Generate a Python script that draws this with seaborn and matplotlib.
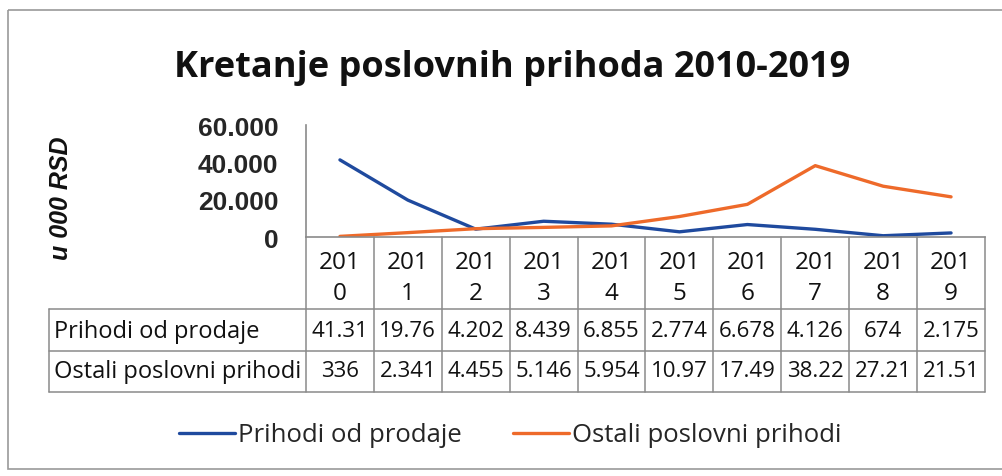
import pandas as pd
import matplotlib.pyplot as plt
import seaborn as sns
from matplotlib.patches import Rectangle

# Data (u 000 RSD)
years = ["2010", "2011", "2012", "2013", "2014", "2015", "2016", "2017", "2018", "2019"]
prihodi_od_prodaje = [41310, 19760, 4202, 8439, 6855, 2774, 6678, 4126, 674, 2175]
ostali_prihodi = [336, 2341, 4455, 5146, 5954, 10970, 17490, 38220, 27210, 21510]
# values as printed in the data table (cut off by the narrow cells)
prodaja_labels = ["41.31", "19.76", "4.202", "8.439", "6.855", "2.774", "6.678", "4.126", "674", "2.175"]
ostali_labels = ["336", "2.341", "4.455", "5.146", "5.954", "10.97", "17.49", "38.22", "27.21", "21.51"]
series_names = ["Prihodi od prodaje", "Ostali poslovni prihodi"]
colors = {"Prihodi od prodaje": "#1f4a9e", "Ostali poslovni prihodi": "#ee6a2a"}

df = pd.DataFrame({
    "idx": list(range(len(years))) * 2,
    "value": prihodi_od_prodaje + ostali_prihodi,
    "series": [series_names[0]] * len(years) + [series_names[1]] * len(years),
})

sns.set_style("white")
W, H = 1003, 477
fig = plt.figure(figsize=(W / 100, H / 100), dpi=100)

# pixel helper overlay for title, table and frame
ov = fig.add_axes([0, 0, 1, 1])
ov.set_xlim(0, W)
ov.set_ylim(H, 0)
ov.axis("off")
ov.set_zorder(0)

# chart frame
ov.add_patch(Rectangle((8, 11), W, 459, fill=False, ec="#9a9a9a", lw=1.2))

# plot area
x0, x1, y_top, y_bot = 306, 985, 126, 238
ax = fig.add_axes([x0 / W, 1 - y_bot / H, (x1 - x0) / W, (y_bot - y_top) / H])
ax.set_zorder(1)
ax.patch.set_alpha(0)
sns.lineplot(data=df, x="idx", y="value", hue="series", palette=colors,
             linewidth=2.4, ax=ax)
ax.set_xlim(-0.5, len(years) - 0.5)
ax.set_ylim(0, 60000)
ax.set_yticks([0, 20000, 40000, 60000])
ax.set_yticklabels(["0", "20.000", "40.000", "60.000"],
                   fontfamily="Liberation Sans", fontweight="bold", fontsize=19)
ax.set_xticks([])
ax.set_xlabel("")
ax.set_ylabel("")
ax.tick_params(axis="y", length=0, pad=20)
for s in ["top", "right"]:
    ax.spines[s].set_visible(False)
for s in ["left", "bottom"]:
    ax.spines[s].set_color("#8a8a8a")
    ax.spines[s].set_linewidth(1.2)

handles, labels = ax.get_legend_handles_labels()
ax.get_legend().remove()

# y label
ov.text(61, 198, "u 000 RSD", rotation=90, ha="center", va="center",
        fontfamily="Liberation Sans", fontweight="bold", fontstyle="italic",
        fontsize=18, color="#111111")

# title
ov.text(512, 68, "Kretanje poslovnih prihoda 2010-2019", ha="center", va="center",
        fontfamily="Open Sans", fontweight="bold", fontsize=26, color="#111111")

# data table
col_w = (x1 - x0) / len(years)
row_y = [y_bot, 310, 352, 393]
lc = "#8a8a8a"
tfont = dict(fontfamily="Open Sans", fontsize=16, color="#111111")
yfont = dict(fontfamily="Open Sans", fontsize=17.5, color="#111111")
lfont = dict(fontfamily="Open Sans", fontsize=17, color="#111111")
for i in range(len(years) + 1):
    xx = x0 + i * col_w
    ov.plot([xx, xx], [y_bot, row_y[3]], color=lc, lw=1.1)
ov.plot([49, 49], [row_y[1], row_y[3]], color=lc, lw=1.1)
for yy in row_y[1:]:
    ov.plot([49, x1], [yy, yy], color=lc, lw=1.1)

for i, yr in enumerate(years):
    cx = x0 + (i + 0.5) * col_w
    ov.text(cx, 263, yr[:3], ha="center", va="center", **yfont)
    ov.text(cx, 294, yr[3:], ha="center", va="center", **yfont)
    ov.text(cx, 332, prodaja_labels[i], ha="center", va="center", **tfont)
    ov.text(cx, 372, ostali_labels[i], ha="center", va="center", **tfont)

ov.text(54, 332, series_names[0], ha="left", va="center", **lfont)
ov.text(54, 372, series_names[1], ha="left", va="center", **lfont)

# legend
fig.legend(handles, labels, loc="center", bbox_to_anchor=(510 / W, 1 - 436 / H),
           ncol=2, frameon=False, handlelength=2.2, handletextpad=0.1,
           columnspacing=2.0, prop={"family": "Open Sans", "size": 18.5})

fig.savefig("out.png", dpi=100, facecolor="white")
